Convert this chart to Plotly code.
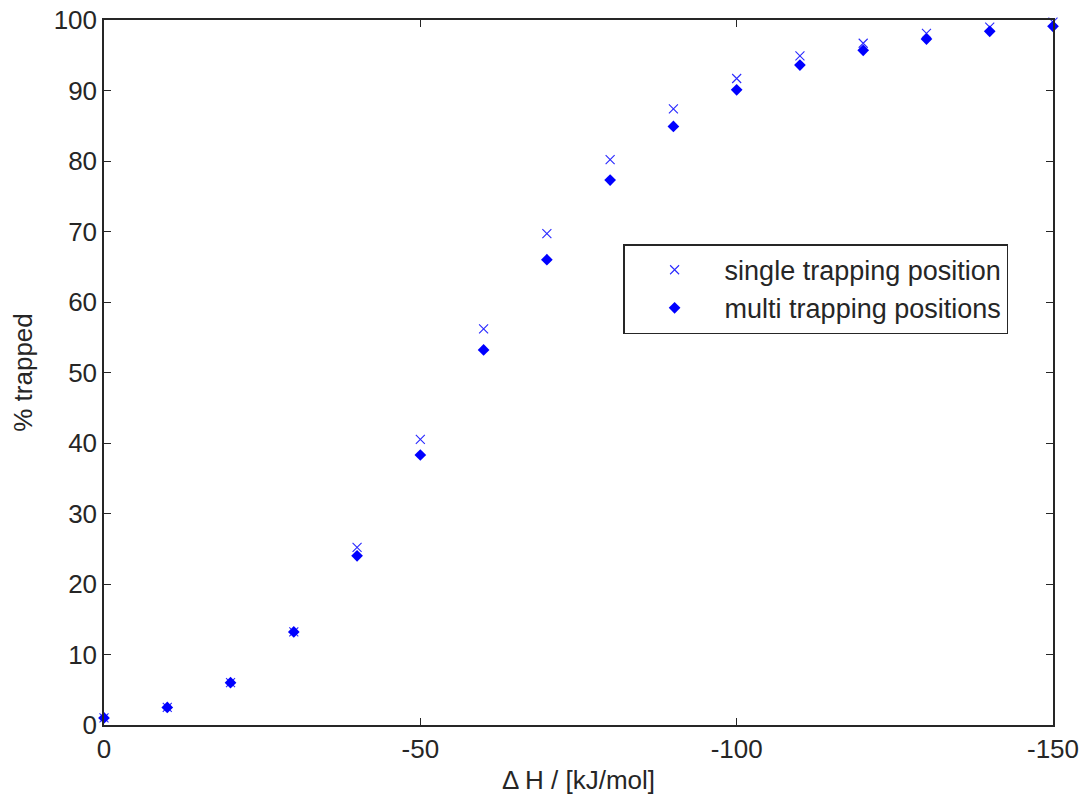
import plotly.graph_objects as go

dH = [0, -10, -20, -30, -40, -50, -60, -70, -80, -90, -100, -110, -120, -130, -140, -150]
single = [1.0, 2.5, 6.0, 13.2, 25.2, 40.5, 56.2, 69.7, 80.2, 87.4, 91.7, 94.9, 96.7, 98.1, 99.0, 99.7]
multi = [1.0, 2.5, 6.0, 13.2, 24.0, 38.3, 53.2, 66.0, 77.3, 84.9, 90.1, 93.6, 95.7, 97.3, 98.4, 99.1]

x_ticks = [0, -50, -100, -150]
y_ticks = list(range(0, 101, 10))

FONT = "Liberation Sans, Arial, sans-serif"

fig = go.Figure()
fig.add_trace(go.Scatter(
    x=dH, y=single, mode="markers", name="single trapping position",
    marker=dict(symbol="x-thin", size=9, line=dict(color="#2a2aff", width=1.1), color="#2a2aff"),
    cliponaxis=False,
))
fig.add_trace(go.Scatter(
    x=dH, y=multi, mode="markers", name="multi trapping positions",
    marker=dict(symbol="diamond", size=9, color="#0000ff", line=dict(width=0)),
    cliponaxis=False,
))

axis_common = dict(
    showline=True, linecolor="#262626", linewidth=1.5, mirror="ticks",
    ticks="inside", ticklen=7, tickwidth=1.2, tickcolor="#262626",
    showgrid=False, zeroline=False, automargin=False,
    tickfont=dict(family=FONT, size=26, color="#262626"),
)

fig.update_layout(
    width=1081, height=801,
    margin=dict(l=104, r=28, t=20, b=76),
    paper_bgcolor="white", plot_bgcolor="white",
    font=dict(family=FONT, size=26, color="#262626"),
    xaxis=dict(range=[0, -150], tickvals=x_ticks, ticktext=[str(v) for v in x_ticks],
               title=dict(text="Δ H / [kJ/mol]", standoff=8, font=dict(size=26)),
               **axis_common),
    yaxis=dict(range=[0, 100], tickvals=y_ticks, ticktext=[str(v) for v in y_ticks],
               title=dict(text="% trapped", standoff=14, font=dict(size=26)),
               **axis_common),
    legend=dict(x=0.547, y=0.682, xanchor="left", yanchor="top",
                bordercolor="#262626", borderwidth=1.5, bgcolor="white",
                font=dict(family=FONT, size=27, color="#262626"),
                itemwidth=90, tracegroupgap=0),
    showlegend=True,
)

fig.write_html("out.html")
